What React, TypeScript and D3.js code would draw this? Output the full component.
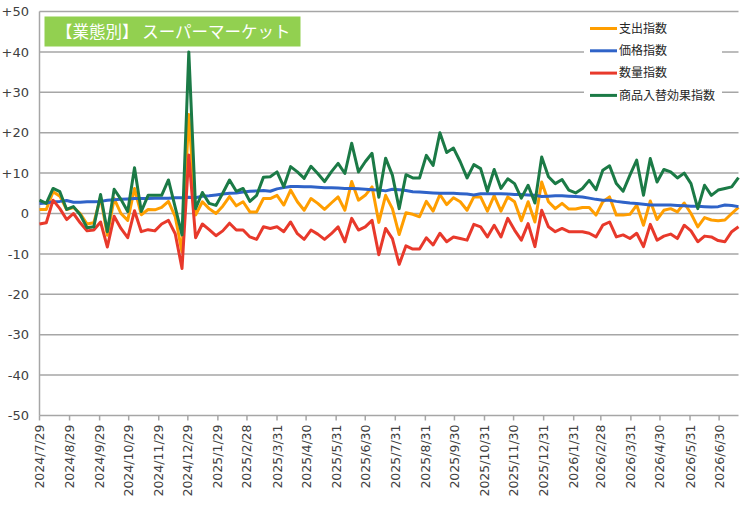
import React from "react";
import * as d3 from "d3";

const startDate = "2024/7/29";

// weekly values, one per week from startDate
const spending = [
  1.0, 1.0, 5.4, 4.3, 1.0, 1.5, 0.0, -2.6, -2.3, 4.0,
  -5.4, 3.7, 0.0, -1.7, 6.2, -0.3, 1.0, 0.9, 1.5, 3.0,
  -0.8, -9.5, 24.5, -0.4, 2.9, 1.2, 0.0, 1.8, 4.2, 1.9,
  2.9, 0.4, 0.4, 3.7, 3.7, 4.5, 2.1, 5.8, 2.9, 0.8,
  3.7, 2.5, 1.0, 2.6, 4.1, 0.8, 7.9, 3.3, 4.5, 6.6,
  -2.2, 4.5, 1.2, -5.2, 0.2, -0.2, -0.8, 3.0, 0.6, 4.7,
  2.2, 3.9, 2.9, 0.8, 4.1, 4.1, 0.6, 4.4, 0.6, 4.1,
  2.9, -1.8, 2.9, -2.1, 7.8, 2.9, 1.2, 2.5, 1.1, 1.1,
  1.5, 1.5, -0.4, 2.9, 4.1, -0.4, -0.4, -0.2, 2.1, -2.9,
  3.1, -1.5, 0.8, 1.2, 0.4, 2.6, 0.0, -3.3, -1.0, -1.6,
  -1.8, -1.6, 0.0, 1.5,
];

const price = [
  2.5, 2.6, 2.9, 3.0, 3.2, 2.8, 2.8, 2.9, 2.9, 3.0,
  3.3, 3.4, 3.5, 3.6, 3.7, 3.7, 3.7, 3.8, 3.8, 3.8,
  3.9, 3.9, 4.0, 3.9, 4.3, 4.4, 4.6, 4.8, 5.0, 5.1,
  5.3, 5.5, 5.6, 5.7, 5.5, 6.1, 6.4, 6.7, 6.7, 6.6,
  6.6, 6.5, 6.4, 6.4, 6.3, 6.2, 6.2, 6.1, 6.0, 5.9,
  5.8, 5.6, 6.0, 5.9, 5.7, 5.4, 5.3, 5.2, 5.1, 5.0,
  5.0, 5.0, 4.9, 4.8, 4.6, 4.9, 4.9, 4.9, 4.9, 4.8,
  4.7, 4.7, 4.6, 4.5, 4.2, 4.3, 4.4, 4.4, 4.3, 4.2,
  4.1, 3.8, 3.5, 3.3, 3.3, 3.0, 2.8, 2.6, 2.5, 2.3,
  2.1, 2.1, 2.1, 2.1, 2.0, 1.9, 1.8, 1.8, 1.7, 1.6,
  1.7, 2.1, 2.0, 1.7,
];

const quantity = [
  -2.6, -2.3, 3.3, 1.2, -1.5, 0.0, -2.3, -4.3, -4.1, -2.1,
  -8.3, -0.7, -3.7, -6.0, 0.7, -4.5, -4.0, -4.3, -2.6, -1.7,
  -5.0, -13.6, 14.5, -6.0, -2.6, -4.0, -5.5, -4.3, -2.4, -4.1,
  -4.1, -5.8, -6.4, -3.3, -3.7, -3.3, -4.5, -2.1, -5.0, -6.4,
  -4.1, -5.1, -6.4, -5.0, -3.3, -7.0, -1.2, -4.1, -3.3, -1.7,
  -10.2, -3.7, -6.2, -12.6, -8.0, -8.8, -8.8, -6.0, -7.8, -4.9,
  -7.0, -5.8, -6.2, -6.6, -2.7, -3.3, -5.8, -2.9, -5.8, -1.2,
  -4.1, -6.6, -2.5, -8.2, 0.8, -3.3, -4.5, -3.7, -4.5, -4.5,
  -4.5, -4.9, -5.8, -2.9, -2.1, -5.8, -5.3, -6.2, -4.9, -8.2,
  -2.7, -6.6, -5.6, -5.1, -6.2, -2.9, -4.3, -7.0, -5.6, -5.8,
  -6.7, -7.0, -4.5, -3.3,
];

const replacement = [
  3.3, 2.5, 6.2, 5.4, 1.0, 1.7, -0.3, -3.5, -3.3, 4.7,
  -4.5, 6.0, 3.5, 0.5, 11.3, 0.5, 4.5, 4.5, 4.5, 8.3,
  1.5, -5.3, 40.0, 1.2, 5.2, 2.5, 2.0, 5.0, 8.3, 5.5,
  6.2, 3.0, 4.5, 9.0, 9.1, 10.3, 6.6, 11.6, 10.3, 8.7,
  11.7, 9.9, 7.9, 10.3, 12.4, 9.9, 17.4, 10.3, 12.8, 14.9,
  4.0, 13.7, 9.5, 1.2, 9.6, 8.8, 8.8, 14.4, 11.9, 20.0,
  15.1, 16.2, 12.8, 8.8, 12.1, 11.1, 5.5, 10.9, 6.2, 8.6,
  7.4, 3.8, 7.0, 2.6, 14.0, 9.1, 7.4, 8.4, 5.8, 5.1,
  6.2, 8.2, 5.9, 10.7, 11.8, 7.4, 5.5, 9.5, 13.2, 4.5,
  13.6, 7.8, 10.9, 10.3, 8.8, 10.0, 7.4, 1.2, 7.0, 4.5,
  5.8, 6.2, 6.6, 8.9,
];

const seriesNames = ["支出指数", "価格指数", "数量指数", "商品入替効果指数"];
const seriesColors = ["#FF9E00", "#2F63C8", "#E8392B", "#1B7A46"];

const yTicks = [50, 40, 30, 20, 10, 0, -10, -20, -30, -40, -50];

const xTickLabels = [
  "2024/7/29", "2024/8/29", "2024/9/29", "2024/10/29", "2024/11/29", "2024/12/29",
  "2025/1/29", "2025/2/28", "2025/3/31", "2025/4/30", "2025/5/31", "2025/6/30",
  "2025/7/31", "2025/8/31", "2025/9/30", "2025/10/31", "2025/11/30", "2025/12/31",
  "2026/1/31", "2026/2/28", "2026/3/31", "2026/4/30", "2026/5/31", "2026/6/30",
];

const title = "【業態別】 スーパーマーケット";

const W = 745;
const H = 510;
const margin = { top: 11.5, right: 6.5, bottom: 94.5, left: 39.5 };
const axisFont = "'DejaVu Sans', Verdana, sans-serif";
const jpFont = "'Noto Sans CJK JP', sans-serif";

const parseDate = d3.timeParse("%Y/%m/%d");

export default function App() {
  const start = parseDate(startDate) as Date;
  const dates = replacement.map((_, i) => d3.timeDay.offset(start, 7 * i));
  const end = dates[dates.length - 1];

  const x = d3
    .scaleTime()
    .domain([start, end])
    .range([margin.left, W - margin.right]);
  const y = d3
    .scaleLinear()
    .domain([-50, 50])
    .range([H - margin.bottom, margin.top]);

  const line = d3
    .line<number>()
    .x((_, i) => x(dates[i]))
    .y((d) => y(d));

  const allSeries = [spending, price, quantity, replacement];
  const fmt = (v: number) => (v > 0 ? `+${v}` : `${v}`);

  return (
    <svg
      width={W}
      height={H}
      style={{ position: "absolute", left: 0, top: 0, background: "#fff" }}
    >
      {/* grid */}
      {yTicks.map((t) => (
        <line
          key={t}
          x1={margin.left}
          x2={W - margin.right}
          y1={y(t)}
          y2={y(t)}
          stroke="#a6a6a6"
          strokeWidth={1.5}
        />
      ))}
      <line
        x1={margin.left}
        x2={margin.left}
        y1={margin.top}
        y2={y(-50)}
        stroke="#a6a6a6"
        strokeWidth={1.5}
      />
      {yTicks.map((t) => (
        <text
          key={"yl" + t}
          x={29}
          y={y(t)}
          dy="0.36em"
          textAnchor="end"
          fontFamily={axisFont}
          fontSize={13}
          fill="#404040"
        >
          {fmt(t)}
        </text>
      ))}

      {/* x axis */}
      {xTickLabels.map((lbl) => {
        const px = x(parseDate(lbl) as Date);
        return (
          <g key={lbl}>
            <line
              x1={px}
              x2={px}
              y1={y(-50)}
              y2={y(-50) + 5}
              stroke="#a6a6a6"
              strokeWidth={1.5}
            />
            <text
              transform={`translate(${px},${y(-50) + 9}) rotate(-90)`}
              dy="0.36em"
              textAnchor="end"
              fontFamily={axisFont}
              fontSize={12.5}
              fill="#404040"
            >
              {lbl}
            </text>
          </g>
        );
      })}

      {/* series */}
      {allSeries.map((s, k) => (
        <path
          key={seriesNames[k]}
          d={line(s) ?? ""}
          fill="none"
          stroke={seriesColors[k]}
          strokeWidth={3}
          strokeLinejoin="round"
        />
      ))}

      {/* title */}
      <rect x={44.5} y={16.5} width={256} height={30} fill="#92D050" />
      <text
        x={56}
        y={32}
        dy="0.36em"
        fontFamily={jpFont}
        fontSize={16.5}
        fill="#fff"
      >
        {title}
      </text>

      {/* legend */}
      <rect x={584} y={17} width={138} height={88} fill="#fff" />
      {seriesNames.map((n, k) => {
        const ly = 28.5 + k * 22.3;
        return (
          <g key={"lg" + n}>
            <line
              x1={590}
              x2={617}
              y1={ly}
              y2={ly}
              stroke={seriesColors[k]}
              strokeWidth={3}
            />
            <text
              x={619}
              y={ly}
              dy="0.36em"
              fontFamily={jpFont}
              fontSize={12}
              fill="#262626"
            >
              {n}
            </text>
          </g>
        );
      })}
    </svg>
  );
}
